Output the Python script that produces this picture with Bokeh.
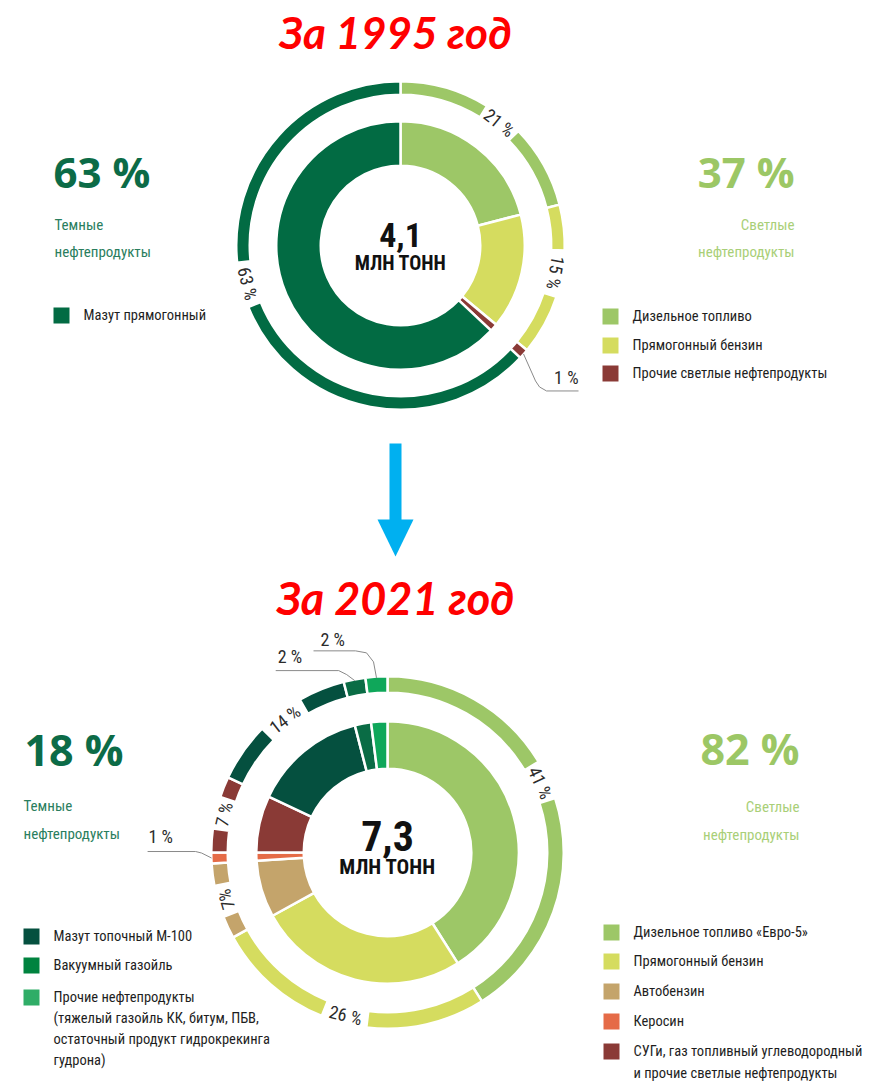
import math
from bokeh.plotting import figure
from bokeh.models import Range1d
from bokeh.core.properties import value
from bokeh.embed import file_html
from bokeh.resources import INLINE

# ---------------- data ----------------
cats_1995 = ["Дизельное топливо", "Прямогонный бензин",
             "Прочие светлые нефтепродукты", "Мазут прямогонный"]
shares_1995 = [21, 15, 1, 63]
pct_labels_1995 = ["21 %", "15 %", "1 %", "63 %"]
total_1995 = "4,1"
dark_share_1995 = "63 %"
light_share_1995 = "37 %"

cats_2021 = ["Дизельное топливо «Евро-5»", "Прямогонный бензин", "Автобензин", "Керосин",
             "СУГи, газ топливный углеводородный\nи прочие светлые нефтепродукты",
             "Мазут топочный М-100", "Вакуумный газойль",
             "Прочие нефтепродукты\n(тяжелый газойль КК, битум, ПБВ,\nостаточный продукт гидрокрекинга\nгудрона)"]
shares_2021 = [41, 26, 7, 1, 7, 14, 2, 2]
pct_labels_2021 = ["41 %", "26 %", "7%", "1 %", "7 %", "14 %", "2 %", "2 %"]
total_2021 = "7,3"
dark_share_2021 = "18 %"
light_share_2021 = "82 %"

unit_label = "МЛН ТОНН"
titles = ["За 1995 год", "За 2021 год"]
dark_caption = ["Темные", "нефтепродукты"]
light_caption = ["Светлые", "нефтепродукты"]

# ---------------- styles ----------------
colors_1995 = ["#9DC767", "#D5DC5F", "#8A3A36", "#026B43"]
colors_2021 = ["#9DC767", "#D5DC5F", "#C4A46B", "#E56B47", "#8A3A36",
               "#05503F", "#0A6C45", "#0FA75A"]
legend_colors_2021 = ["#9DC767", "#D5DC5F", "#C4A46B", "#E56B47", "#8A3A36",
                      "#05503F", "#00833F", "#2FAD67"]
DARK = "#0C6B47"
LIGHT = "#9CC765"
DARK_CAP = "#2A7E5E"
LIGHT_CAP = "#A9CF78"
NARROW = value("'Liberation Sans Narrow', 'Roboto Condensed', 'DejaVu Sans Condensed', Roboto")
BOLDC = NARROW
WIDE = value("Open Sans")
TITLE_FONT = value("Lato")

W, H = 868, 1083
p = figure(width=W, height=H, x_range=Range1d(0, W), y_range=Range1d(1083 - H, 1083),
           output_backend="svg", toolbar_location=None,
           x_axis_location=None, y_axis_location=None, min_border=0)
p.grid.visible = False
p.outline_line_color = None
p.background_fill_color = "white"


def Y(py):
    return 1083 - py


def pol(cx, cy, r, th):
    t = math.radians(th)
    return cx + r * math.sin(t), cy - r * math.cos(t)


def txt(x, y, s, size, color="#1e1e1e", align="left", font=NARROW, style="normal", angle=0.0):
    p.text(x=[x], y=[Y(y)], text=[s], angle=angle, text_align=align, text_baseline="middle",
           text_font=font, text_font_style=style, text_font_size=size, text_color=color)


def donut(cx, cy, shares, colors, r_hole, r_in, r_o0, r_o1, inline, labels, sep=2.5):
    total = float(sum(shares))
    segs, cum = [], 0.0
    for s in shares:
        segs.append((cum / total * 360.0, (cum + s) / total * 360.0))
        cum += s
    # inner ring
    p.annular_wedge(x=cx, y=Y(cy), inner_radius=r_hole - sep / 2, outer_radius=r_in + sep / 2,
                    start_angle=[math.radians(90 - b) for a, b in segs],
                    end_angle=[math.radians(90 - a) for a, b in segs],
                    fill_color=colors, line_color="white", line_width=sep)
    # outer ring (split around in-ring labels)
    st, en, cl = [], [], []
    tx, ty, tt, ta = [], [], [], []
    rm = (r_o0 + r_o1) / 2
    for i, (a, b) in enumerate(segs):
        if i in inline:
            shift, gap, flip = inline[i]
            th = (a + b) / 2 + shift
            pieces = [(a, th - gap / 2), (th + gap / 2, b)]
            x, y = pol(cx, cy, rm, th)
            tx.append(x); ty.append(Y(y)); tt.append(labels[i])
            rot = (180 - th) if flip else -th
            ta.append(math.radians(rot))
        else:
            pieces = [(a, b)]
        for a2, b2 in pieces:
            st.append(math.radians(90 - b2)); en.append(math.radians(90 - a2)); cl.append(colors[i])
    p.annular_wedge(x=cx, y=Y(cy), inner_radius=r_o0 - sep / 2, outer_radius=r_o1 + sep / 2,
                    start_angle=st, end_angle=en, fill_color=cl, line_color="white", line_width=sep)
    p.text(x=tx, y=ty, text=tt, angle=ta, text_align="center", text_baseline="middle",
           text_font=NARROW, text_font_size="18px", text_color="#2b2b2b")
    return segs


def leader(cx, cy, r, th, pts, label, tdx, tdy, align):
    x0, y0 = pol(cx, cy, r, th)
    xs = [x0] + [x0 + dx for dx, dy in pts]
    ys = [Y(y0)] + [Y(y0 + dy) for dx, dy in pts]
    p.line(xs, ys, line_color="#8a8a8a", line_width=1)
    txt(x0 + tdx, y0 + tdy, label, "18px", "#2b2b2b", align)


def square_legend(x, y_tops, colors, lines_list, line_gap=21, size=16, fsize="14.5px"):
    for yt, c, lines in zip(y_tops, colors, lines_list):
        p.rect(x=x + size / 2, y=Y(yt + size / 2), width=size, height=size,
               fill_color=c, line_color=None)
        for k, ln in enumerate(lines):
            txt(x + size + 14, yt + size / 2 + k * line_gap, ln, fsize)


# ---------------- titles ----------------
for t, cy, fs in zip(titles, [31, 597], ["44px", "45px"]):
    txt(395, cy, t, fs, "#FF0000", "center", TITLE_FONT, "bold italic")

# ---------------- arrow ----------------
p.quad(left=389, right=401, top=Y(443), bottom=Y(521), fill_color="#00B0F0", line_color=None)
p.patch([377, 413, 395], [Y(519), Y(519), Y(556)], fill_color="#00B0F0", line_color=None)

# ---------------- chart 1995 ----------------
c1x, c1y = 400, 245
segs1 = donut(c1x, c1y, shares_1995, colors_1995, 81, 123, 152, 163,
              {0: (1.0, 14, False), 1: (-2.6, 16.5, False), 3: (9.4, 16, True)},
              pct_labels_1995)
a, b = segs1[2]
leader(c1x, c1y, 164, (a + b) / 2, [(12, 27), (16, 33), (23, 37), (55, 37)],
       pct_labels_1995[2], 55, 24, "right")

txt(c1x, 234, total_1995, "34px", "#111111", "center", BOLDC, "bold")
txt(c1x, 262, unit_label, "20px", "#111111", "center", BOLDC, "bold")

txt(53, 171, dark_share_1995, "42px", DARK, "left", WIDE, "bold")
txt(794, 171, light_share_1995, "42px", LIGHT, "right", WIDE, "bold")
for k, (dc, lc) in enumerate(zip(dark_caption, light_caption)):
    txt(54, 224 + 27 * k, dc, "15px", DARK_CAP)
    txt(794, 224 + 27 * k, lc, "15px", LIGHT_CAP, "right")

square_legend(53, [307], [colors_1995[3]], [[cats_1995[3]]])
square_legend(602, [308, 337, 365], colors_1995[:3], [[c] for c in cats_1995[:3]])

# ---------------- chart 2021 ----------------
c2x, c2y = 387, 852
segs2 = donut(c2x, c2y, shares_2021, colors_2021, 85, 130, 161, 175,
              {0: (-8.3, 13, False), 1: (0, 15, True), 2: (0, 10.5, False),
               4: (0.5, 10.5, False), 5: (2.0, 15.5, False)},
              pct_labels_2021)
a, b = segs2[3]
leader(c2x, c2y, 176, (a + b) / 2, [(-10, -5), (-16, -6.5), (-64, -6.5)],
       pct_labels_2021[3], -63, -22, "left")
a, b = segs2[6]
leader(c2x, c2y, 175, (a + b) / 2, [(-8, -6), (-16, -10), (-79, -10)],
       pct_labels_2021[6], -77, -24.5, "left")
a, b = segs2[7]
leader(c2x, c2y, 175, (a + b) / 2, [(-3, -16), (-10, -25), (-21, -27), (-63, -27)],
       pct_labels_2021[7], -56, -38.5, "left")

txt(c2x, 835, total_2021, "42px", "#111111", "center", BOLDC, "bold")
txt(c2x, 866, unit_label, "21px", "#111111", "center", BOLDC, "bold")

txt(24, 749, dark_share_2021, "43px", DARK, "left", WIDE, "bold")
txt(799, 748, light_share_2021, "43px", LIGHT, "right", WIDE, "bold")
for k, (dc, lc) in enumerate(zip(dark_caption, light_caption)):
    txt(23, 805.5 + 27.5 * k, dc, "15px", DARK_CAP)
    txt(799, 806.5 + 28 * k, lc, "15px", LIGHT_CAP, "right")

square_legend(23, [928, 957, 989], legend_colors_2021[5:],
              [c.split("\n") for c in cats_2021[5:]])
square_legend(603, [924, 953, 983, 1013, 1043], legend_colors_2021[:5],
              [c.split("\n") for c in cats_2021[:5]], line_gap=22)

open("out.html", "w").write(file_html(p, INLINE))
